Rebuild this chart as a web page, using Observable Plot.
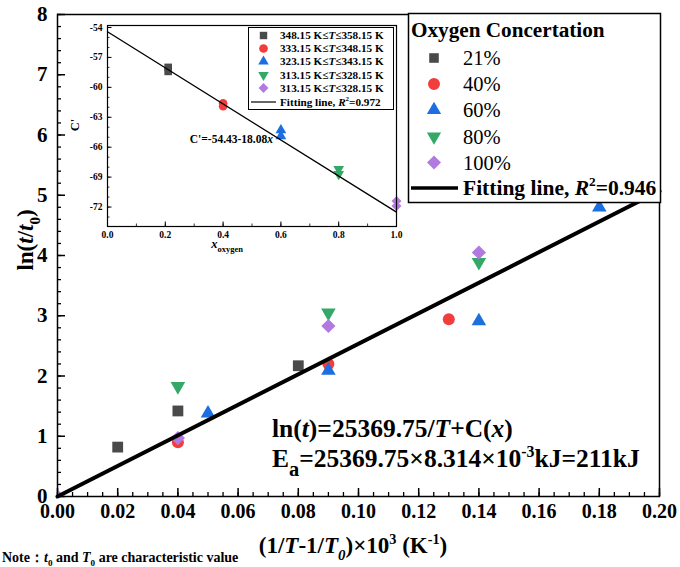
<!DOCTYPE html>
<html>
<head>
<meta charset="utf-8">
<script src="https://cdn.jsdelivr.net/npm/d3@7"></script>
<script src="https://cdn.jsdelivr.net/npm/@observablehq/plot@0.6"></script>
<style>
  html, body { margin: 0; padding: 0; background: white; }
  #wrap { position: relative; width: 680px; height: 567px; overflow: hidden; }
  #inset { position: absolute; left: 60px; top: 5px; }
</style>
</head>
<body>
<div id="wrap"></div>
<script>
// ---------- DATA: main chart ----------
const seriesNames = ["21%", "40%", "60%", "80%", "100%"];
const x21 = [0.02, 0.04, 0.08];
const y21 = [0.82, 1.42, 2.17];
const x40 = [0.04, 0.09, 0.13];
const y40 = [0.90, 2.20, 2.94];
const x60 = [0.05, 0.09, 0.14, 0.18];
const y60 = [1.38, 2.09, 2.91, 4.80];
const x80 = [0.04, 0.09, 0.14];
const y80 = [1.83, 3.05, 3.89];
const x100 = [0.00, 0.04, 0.09, 0.14];
const y100 = [0.00, 0.97, 2.83, 4.05];
const fitX = [0, 0.2];
const fitY = [0, 5.07];
const xTicksMain = [0, 0.02, 0.04, 0.06, 0.08, 0.10, 0.12, 0.14, 0.16, 0.18, 0.20];
const yTicksMain = [0, 1, 2, 3, 4, 5, 6, 7, 8];

// ---------- DATA: inset ----------
const insetNames = ["348.15 K≤|T|≤358.15 K", "333.15 K≤|T|≤348.15 K", "323.15 K≤|T|≤343.15 K", "313.15 K≤|T|≤328.15 K", "313.15 K≤|T|≤328.15 K"];
const ix21 = [0.21, 0.21];  const iy21 = [-58.0, -58.4];
const ix40 = [0.40, 0.40];  const iy40 = [-61.6, -61.9];
const ix60 = [0.60, 0.60];  const iy60 = [-64.3, -64.9];
const ix80 = [0.80, 0.80];  const iy80 = [-68.2, -68.7];
const ix100 = [1.00, 1.00]; const iy100 = [-71.4, -71.9];
const iFitX = [0, 1];
const iFitY = [-54.43, -72.51];
const xTicksInset = [0, 0.2, 0.4, 0.6, 0.8, 1.0];
const yTicksInset = [-54, -57, -60, -63, -66, -69, -72];

// ---------- style ----------
const FONT = "'Liberation Serif', 'Times New Roman', serif";
const C_GRAY = "#4a4a4a", C_RED = "#f23d3d", C_BLUE = "#1b6fe0", C_GREEN = "#34a866", C_PURPLE = "#b27ae0";

const triangleDown = {
  draw(context, size) {
    const sqrt3 = Math.sqrt(3);
    const y = -Math.sqrt(size / (sqrt3 * 3));
    context.moveTo(0, -y * 2);
    context.lineTo(-sqrt3 * y, y);
    context.lineTo(sqrt3 * y, y);
    context.closePath();
  }
};
const pts = (xs, ys) => xs.map((x, i) => ({x, y: ys[i]}));

// ---------- main plot ----------
const W = 680, H = 567, mL = 57, mR = 21, mT = 14, mB = 71;
const fw = W - mL - mR, fh = H - mT - mB;
const xMinor = d3.range(0, 0.2001, 0.005);
const yMinor = d3.range(0, 8.001, 0.2);

const main = Plot.plot({
  width: W, height: H,
  marginLeft: mL, marginRight: mR, marginTop: mT, marginBottom: mB,
  x: {domain: [0, 0.2], label: null},
  y: {domain: [0, 8], label: null},
  style: {fontFamily: FONT, fontWeight: "bold", fontSize: "20px", color: "black", background: "white"},
  marks: [
    Plot.tickX(xMinor, {x: d => d, insetTop: fh - 4, strokeWidth: 1.3}),
    Plot.tickX(xTicksMain, {x: d => d, insetTop: fh - 8, strokeWidth: 1.5}),
    Plot.tickY(yMinor, {y: d => d, insetRight: fw - 4, strokeWidth: 1.3}),
    Plot.tickY(yTicksMain, {y: d => d, insetRight: fw - 8, strokeWidth: 1.5}),
    Plot.axisX({ticks: xTicksMain, tickSize: 0, tickPadding: 7, tickFormat: d => d.toFixed(2), label: null, fontFamily: FONT, fontSize: 20, fontWeight: "bold"}),
    Plot.axisY({ticks: yTicksMain, tickSize: 0, tickPadding: 10, tickFormat: d => String(d), label: null, fontFamily: FONT, fontSize: 21, fontWeight: "bold"}),
    Plot.dot(pts(x21, y21), {x: "x", y: "y", symbol: "square", r: 6.1, fill: C_GRAY, clip: true}),
    Plot.dot(pts(x40, y40), {x: "x", y: "y", symbol: "circle", r: 6, fill: C_RED, clip: true}),
    Plot.dot(pts(x60, y60), {x: "x", y: "y", symbol: "triangle", r: 5.4, fill: C_BLUE, clip: true}),
    Plot.dot(pts(x80, y80), {x: "x", y: "y", symbol: triangleDown, r: 5.4, fill: C_GREEN, clip: true}),
    Plot.dot(pts(x100, y100), {x: "x", y: "y", symbol: "diamond2", r: 6.4, fill: C_PURPLE, clip: true}),
    Plot.line(pts(fitX, fitY), {x: "x", y: "y", stroke: "black", strokeWidth: 4}),
    Plot.frame({stroke: "black", strokeWidth: 1.5})
  ]
});
document.getElementById("wrap").appendChild(main);

// ---------- text helper ----------
function rich(sel, x, y, parts, size, opts = {}) {
  const t = sel.append("text")
    .attr("x", x).attr("y", y)
    .style("font-family", FONT)
    .attr("font-size", size)
    .attr("font-weight", opts.weight || "bold")
    .attr("text-anchor", opts.anchor || "start")
    .attr("fill", "black");
  if (opts.transform) t.attr("transform", opts.transform);
  let cur = 0;
  for (const p of parts) {
    const s = typeof p === "string" ? {t: p} : p;
    const ts = t.append("tspan").text(s.t);
    let target = 0, fs = size;
    if (s.sub) { target = size * (s.subShift || 0.3); fs = size * (s.scale || 0.65); }
    if (s.sup) { target = -size * 0.4; fs = size * (s.scale || 0.62); }
    ts.attr("font-size", fs);
    if (target !== cur) { ts.attr("dy", target - cur); cur = target; }
    if (s.i) ts.attr("font-style", "italic");
    if (s.w) ts.attr("font-weight", s.w);
  }
  return t;
}

const svg = d3.select(main);

// axis titles
rich(svg, 0, 0, ["ln(", {t: "t", i: 1}, "/", {t: "t", i: 1}, {t: "0", sub: 1}, ")"], 23,
  {anchor: "middle", transform: "translate(33,240) rotate(-90)"});
rich(svg, 353, 553, ["(1/", {t: "T", i: 1}, "-1/", {t: "T", i: 1}, {t: "0", sub: 1, i: 1}, ")×10", {t: "3", sup: 1}, " (K", {t: "-1", sup: 1}, ")"], 23,
  {anchor: "middle"});
rich(svg, 2, 562, ["Note：", {t: "t", i: 1}, {t: "0", sub: 1}, " and ", {t: "T", i: 1}, {t: "0", sub: 1}, " are characteristic value"], 14);

// equations
rich(svg, 272, 437, ["ln(", {t: "t", i: 1}, ")=25369.75/", {t: "T", i: 1}, "+C(", {t: "x", i: 1}, ")"], 25.5);
rich(svg, 272, 467, ["E", {t: "a", sub: 1, scale: 0.8, subShift: 0.35}, "=25369.75×8.314×10", {t: "-3", sup: 1}, "kJ=211kJ"], 25.5);

// main legend
const lg = svg.append("g");
lg.append("rect").attr("x", 408.5).attr("y", 13.5).attr("width", 252).attr("height", 189)
  .attr("fill", "white").attr("stroke", "black").attr("stroke-width", 1.5);
rich(lg, 411, 37, ["Oxygen Concertation"], 21.2);
const legSyms = [
  {type: d3.symbolSquare, size: 92, color: C_GRAY},
  {type: d3.symbolCircle, size: 113, color: C_RED},
  {type: d3.symbolTriangle, size: 88, color: C_BLUE},
  {type: triangleDown, size: 88, color: C_GREEN},
  {type: d3.symbolDiamond2, size: 125, color: C_PURPLE}
];
const legY = [58, 84, 110, 136.5, 162.5];
seriesNames.forEach((name, i) => {
  lg.append("path").attr("d", d3.symbol(legSyms[i].type, legSyms[i].size)())
    .attr("transform", `translate(434,${legY[i]})`).attr("fill", legSyms[i].color);
  rich(lg, 463, legY[i] + 7, [name], 20.5, {weight: "normal"});
});
lg.append("line").attr("x1", 411).attr("x2", 458).attr("y1", 188).attr("y2", 188)
  .attr("stroke", "black").attr("stroke-width", 3.5);
rich(lg, 463, 195, ["Fitting line, ", {t: "R", i: 1}, {t: "2", sup: 1}, "=0.946"], 21.5);

// ---------- inset plot ----------
const iW = 350, iH = 257, iL = 47, iR = 14, iT = 20, iB = 36;
const ifw = iW - iL - iR, ifh = iH - iT - iB;
const ixMinor = d3.range(0, 1.0001, 0.1);
const iyMinor = d3.range(-73, -53.9, 1);

const inset = Plot.plot({
  width: iW, height: iH,
  marginLeft: iL, marginRight: iR, marginTop: iT, marginBottom: iB,
  x: {domain: [0, 1], label: null},
  y: {domain: [-73.95, -53.8], label: null},
  style: {fontFamily: FONT, fontWeight: "bold", fontSize: "9px", color: "black", background: "transparent"},
  marks: [
    Plot.frame({fill: "white"}),
    Plot.tickX(ixMinor, {x: d => d, insetTop: ifh - 2.5, strokeWidth: 0.8}),
    Plot.tickX(xTicksInset, {x: d => d, insetTop: ifh - 4.5, strokeWidth: 1}),
    Plot.tickY(iyMinor, {y: d => d, insetRight: ifw - 2.5, strokeWidth: 0.8}),
    Plot.tickY(yTicksInset, {y: d => d, insetRight: ifw - 4.5, strokeWidth: 1}),
    Plot.axisX({ticks: xTicksInset, tickSize: 0, tickPadding: 5, tickFormat: d => d.toFixed(1), label: null, fontFamily: FONT, fontSize: 9.5, fontWeight: "bold"}),
    Plot.axisY({ticks: yTicksInset, tickSize: 0, tickPadding: 5, tickFormat: d => String(d), label: null, fontFamily: FONT, fontSize: 9.5, fontWeight: "bold"}),
    Plot.dot(pts(ix21, iy21), {x: "x", y: "y", symbol: "square", r: 4.3, fill: C_GRAY}),
    Plot.dot(pts(ix40, iy40), {x: "x", y: "y", symbol: "circle", r: 4.3, fill: C_RED}),
    Plot.dot(pts(ix60, iy60), {x: "x", y: "y", symbol: "triangle", r: 4, fill: C_BLUE}),
    Plot.dot(pts(ix80, iy80), {x: "x", y: "y", symbol: triangleDown, r: 4, fill: C_GREEN}),
    Plot.dot(pts(ix100, iy100), {x: "x", y: "y", symbol: "diamond2", r: 4.5, fill: C_PURPLE}),
    Plot.line(pts(iFitX, iFitY), {x: "x", y: "y", stroke: "black", strokeWidth: 1.3}),
    Plot.frame({stroke: "black", strokeWidth: 1.2})
  ]
});
inset.id = "inset";
document.getElementById("wrap").appendChild(inset);
const isvg = d3.select(inset);

// inset titles
rich(isvg, 0, 0, ["C'"], 12.5, {anchor: "middle", transform: "translate(19,120) rotate(-90)"});
rich(isvg, 167, 243, [{t: "x", i: 1}, {t: "oxygen", sub: 1, scale: 0.68}], 12.5, {anchor: "middle"});
rich(isvg, 213, 138, ["C'=-54.43-18.08", {t: "x", i: 1}], 11.5, {anchor: "end"});

// inset legend
const ilg = isvg.append("g");
ilg.append("rect").attr("x", 188.5).attr("y", 22.5).attr("width", 145).attr("height", 82)
  .attr("fill", "white").attr("stroke", "black").attr("stroke-width", 1);
const iSyms = [
  {type: d3.symbolSquare, size: 55, color: C_GRAY},
  {type: d3.symbolCircle, size: 60, color: C_RED},
  {type: d3.symbolTriangle, size: 48, color: C_BLUE},
  {type: triangleDown, size: 48, color: C_GREEN},
  {type: d3.symbolDiamond2, size: 62, color: C_PURPLE}
];
const iLegY = [30.5, 43.5, 56.5, 70, 83];
insetNames.forEach((name, i) => {
  ilg.append("path").attr("d", d3.symbol(iSyms[i].type, iSyms[i].size)())
    .attr("transform", `translate(203.5,${iLegY[i]})`).attr("fill", iSyms[i].color);
  const [a, b, c] = name.split("|");
  rich(ilg, 220, iLegY[i] + 3.8, [a, {t: b, i: 1}, c], 11.2);
});
ilg.append("line").attr("x1", 191).attr("x2", 216).attr("y1", 97).attr("y2", 97)
  .attr("stroke", "black").attr("stroke-width", 1.2);
rich(ilg, 220, 100.8, ["Fitting line, ", {t: "R", i: 1}, {t: "2", sup: 1}, "=0.972"], 11.2);
</script>
</body>
</html>
